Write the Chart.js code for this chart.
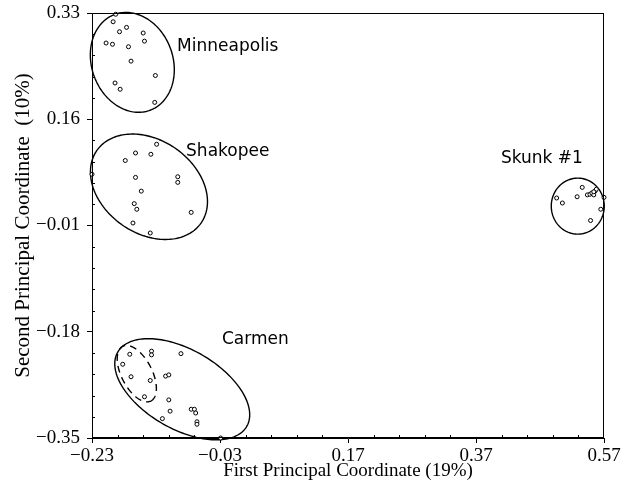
<!DOCTYPE html>
<html>
<head>
<meta charset="utf-8">
<style>
  html, body { margin: 0; padding: 0; background: #fff; }
</style>
</head>
<body>
<canvas id="pcoa" width="627" height="496"></canvas>
<script src="https://cdn.jsdelivr.net/npm/chart.js@4.4.0/dist/chart.umd.min.js"></script>
<script>
// Axis ticks
const xTicks = [-0.23, -0.03, 0.17, 0.37, 0.57];
const yTicks = [-0.35, -0.18, -0.01, 0.16, 0.33];

// Sample scores on the first two principal coordinates
const minneapolisX = [-0.193, -0.197, -0.176, -0.187, -0.150, -0.208, -0.198, -0.148, -0.173, -0.169, -0.131, -0.194, -0.186, -0.132];
const minneapolisY = [0.328, 0.316, 0.307, 0.300, 0.298, 0.282, 0.280, 0.285, 0.276, 0.253, 0.230, 0.218, 0.208, 0.187];

const shakopeeX = [-0.129, -0.162, -0.138, -0.178, -0.230, -0.162, -0.096, -0.096, -0.153, -0.164, -0.160, -0.075, -0.166, -0.139];
const shakopeeY = [0.120, 0.106, 0.104, 0.094, 0.072, 0.067, 0.068, 0.059, 0.045, 0.025, 0.016, 0.011, -0.006, -0.022];

const carmenX = [-0.171, -0.137, -0.137, -0.091, -0.182, -0.169, -0.139, -0.115, -0.110, -0.148, -0.110, -0.108, -0.120, -0.075, -0.070, -0.068, -0.066, -0.066, -0.029];
const carmenY = [-0.216, -0.211, -0.217, -0.215, -0.232, -0.252, -0.258, -0.251, -0.249, -0.284, -0.289, -0.307, -0.319, -0.304, -0.304, -0.310, -0.324, -0.328, -0.350];

const skunkX = [0.496, 0.505, 0.528, 0.536, 0.544, 0.548, 0.551, 0.554, 0.556, 0.558, 0.554, 0.570, 0.565, 0.549];
const skunkY = [0.034, 0.026, 0.036, 0.051, 0.039, 0.040, 0.042, 0.039, 0.045, 0.048, 0.044, 0.035, 0.016, -0.002];

// Group ellipses (centre, semi-axes, rotation in degrees)
const ellipseCx = [-0.167, -0.141, -0.089, -0.160, 0.529];
const ellipseCy = [0.251, 0.052, -0.272, -0.247, 0.021];
const ellipseA = [0.0815, 0.100, 0.117, 0.049, 0.0414];
const ellipseB = [0.0636, 0.074, 0.063, 0.024, 0.0448];
const ellipseAngle = [-71.6, -37, -31, -63.6, 0];
const ellipseDashed = [false, false, false, true, false];

// Group names and where they sit
const groupNames = ['Minneapolis', 'Shakopee', 'Carmen', 'Skunk #1'];
const labelX = [-0.097, -0.083, -0.027, 0.409];
const labelY = [0.277, 0.108, -0.193, 0.097];

function toPoints(xs, ys) {
    return xs.map((x, i) => ({ x: x, y: ys[i] }));
}

function fmt(v) {
    return (v < 0 ? '\u2212' : '') + Math.abs(v).toFixed(2);
}

function makeSet(label, xs, ys) {
    return {
        label: label,
        data: toPoints(xs, ys),
        pointRadius: 2,
        pointBorderWidth: 1,
        borderColor: '#000',
        backgroundColor: '#fff',
        clip: false
    };
}

const extras = {
    id: 'extras',
    beforeDatasetsDraw(chart) {
        const ctx = chart.ctx;
        const xs = chart.scales.x, ys = chart.scales.y;
        ctx.save();
        ctx.strokeStyle = '#000';
        ctx.lineWidth = 1.4;
        ellipseCx.forEach((cx, k) => {
            const ang = ellipseAngle[k] * Math.PI / 180;
            ctx.setLineDash(ellipseDashed[k] ? [7, 5] : []);
            ctx.beginPath();
            for (let i = 0; i <= 180; i++) {
                const t = i / 180 * 2 * Math.PI;
                const dx = ellipseA[k] * Math.cos(t) * Math.cos(ang) - ellipseB[k] * Math.sin(t) * Math.sin(ang);
                const dy = ellipseA[k] * Math.cos(t) * Math.sin(ang) + ellipseB[k] * Math.sin(t) * Math.cos(ang);
                const px = xs.getPixelForValue(cx + dx);
                const py = ys.getPixelForValue(ellipseCy[k] + dy);
                if (i === 0) ctx.moveTo(px, py); else ctx.lineTo(px, py);
            }
            ctx.closePath();
            ctx.stroke();
        });
        ctx.setLineDash([]);

        // group names
        ctx.fillStyle = '#000';
        ctx.font = '17px "DejaVu Sans"';
        ctx.textAlign = 'left';
        ctx.textBaseline = 'middle';
        groupNames.forEach((name, i) => {
            ctx.fillText(name, xs.getPixelForValue(labelX[i]), ys.getPixelForValue(labelY[i]));
        });
        ctx.restore();
    },
    afterDraw(chart) {
        const ctx = chart.ctx;
        const a = chart.chartArea;
        const xs = chart.scales.x, ys = chart.scales.y;
        ctx.save();
        ctx.strokeStyle = '#000';
        ctx.lineWidth = 1;
        ctx.strokeRect(a.left + 0.5, a.top + 0.5, a.right - a.left - 1, a.bottom - a.top - 1);

        // minor ticks, five steps between majors, pointing inward
        ctx.beginPath();
        for (let i = 0; i < xTicks.length - 1; i++) {
            for (let j = 1; j < 5; j++) {
                const px = Math.round(xs.getPixelForValue(xTicks[i] + (xTicks[i + 1] - xTicks[i]) * j / 5)) + 0.5;
                ctx.moveTo(px, a.bottom);
                ctx.lineTo(px, a.bottom - 3);
            }
        }
        for (let i = 0; i < yTicks.length - 1; i++) {
            for (let j = 1; j < 5; j++) {
                const py = Math.round(ys.getPixelForValue(yTicks[i] + (yTicks[i + 1] - yTicks[i]) * j / 5)) + 0.5;
                ctx.moveTo(a.left, py);
                ctx.lineTo(a.left + 3, py);
            }
        }
        ctx.stroke();
        ctx.restore();
    }
};

const tickFont = { family: '"Liberation Serif", "Times New Roman", serif', size: 19 };

new Chart(document.getElementById('pcoa').getContext('2d'), {
    type: 'scatter',
    data: {
        datasets: [
            makeSet('Minneapolis', minneapolisX, minneapolisY),
            makeSet('Shakopee', shakopeeX, shakopeeY),
            makeSet('Carmen', carmenX, carmenY),
            makeSet('Skunk #1', skunkX, skunkY)
        ]
    },
    options: {
        responsive: false,
        animation: false,
        devicePixelRatio: 1,
        layout: { padding: { top: 13, right: 23, left: 0, bottom: 0 } },
        plugins: {
            legend: { display: false },
            tooltip: { enabled: false }
        },
        scales: {
            x: {
                type: 'linear',
                min: -0.23,
                max: 0.57,
                afterBuildTicks: s => { s.ticks = xTicks.map(v => ({ value: v })); },
                afterFit: s => { s.height = 58; s.paddingLeft = 0; s.paddingRight = 0; },
                ticks: { callback: v => fmt(v), font: tickFont, color: '#000', padding: 2, maxRotation: 0, autoSkip: false },
                grid: { drawOnChartArea: false, drawTicks: true, tickLength: 5, color: '#000' },
                border: { color: '#000', width: 1 },
                title: { display: true, text: 'First Principal Coordinate (19%)', font: { family: '"Liberation Serif", serif', size: 19 }, color: '#000', padding: { top: 0, bottom: 14 } }
            },
            y: {
                type: 'linear',
                min: -0.35,
                max: 0.33,
                afterBuildTicks: s => { s.ticks = yTicks.map(v => ({ value: v })); },
                afterFit: s => { s.width = 92; s.paddingTop = 0; s.paddingBottom = 0; },
                ticks: { callback: v => fmt(v), font: tickFont, color: '#000', padding: 7, autoSkip: false },
                grid: { drawOnChartArea: false, drawTicks: true, tickLength: 5, color: '#000' },
                border: { color: '#000', width: 1 },
                title: { display: true, text: 'Second Principal Coordinate  (10%)', font: { family: '"Liberation Serif", serif', size: 21 }, color: '#000', padding: { top: 11, bottom: 0 } }
            }
        }
    },
    plugins: [extras]
});
</script>
</body>
</html>
